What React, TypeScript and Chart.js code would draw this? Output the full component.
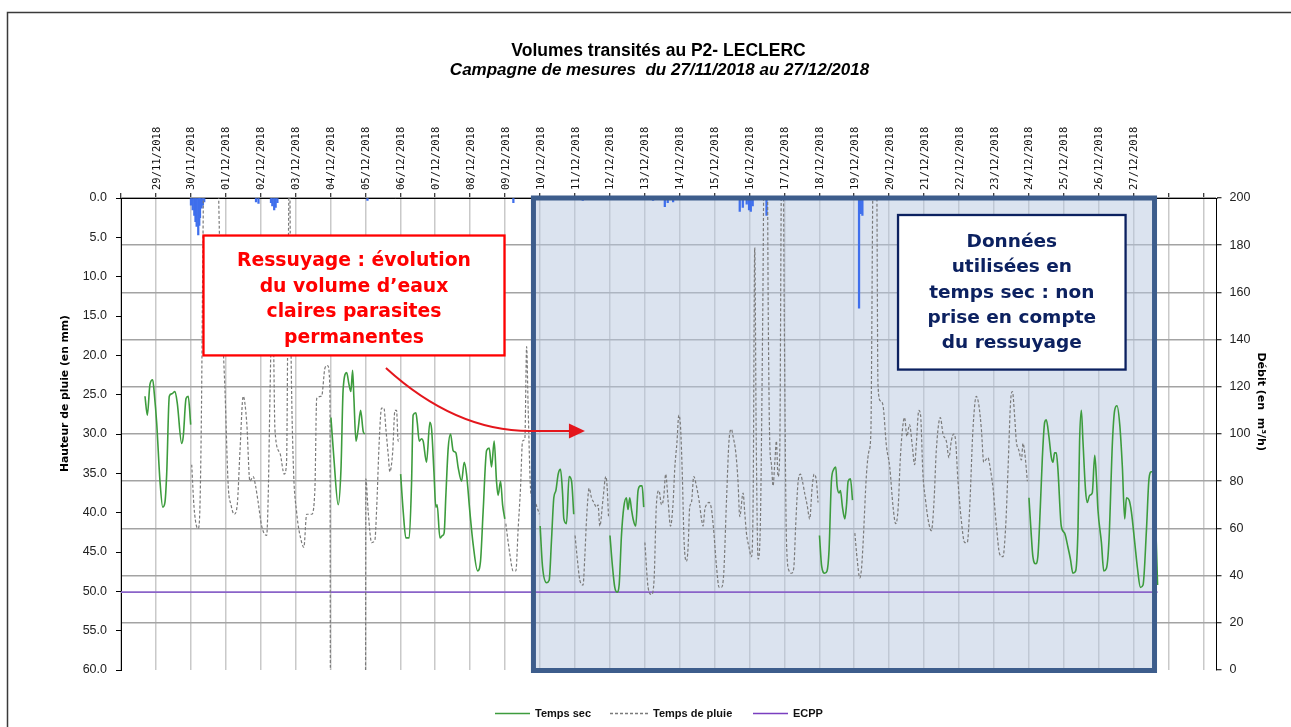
import React, { useEffect, useRef } from 'react';
import { Chart, registerables } from 'chart.js';

Chart.register(...registerables);

// ---- Data ----
const dayLabels = [
  '29/11/2018', '30/11/2018', '01/12/2018', '02/12/2018', '03/12/2018', '04/12/2018',
  '05/12/2018', '06/12/2018', '07/12/2018', '08/12/2018', '09/12/2018', '10/12/2018',
  '11/12/2018', '12/12/2018', '13/12/2018', '14/12/2018', '15/12/2018', '16/12/2018',
  '17/12/2018', '18/12/2018', '19/12/2018', '20/12/2018', '21/12/2018', '22/12/2018',
  '23/12/2018', '24/12/2018', '25/12/2018', '26/12/2018', '27/12/2018',
];

// hours since 28/11/2018 00:00
const rainHours = [
  48.1, 49.3, 50.4, 51.2, 52.0, 53.1, 53.8, 54.3, 55.4, 56.3, 57.2, 92.8, 94.5, 103.1, 104.0,
  105.3, 106.3, 107.5, 169.4, 269.7, 317.4, 365.7, 373.8, 375.8, 379.5, 425.3, 427.4, 430.1,
  431.7, 432.9, 434.2, 443.7, 507.3, 508.5, 509.6,
];
const rainMm = [
  0.9, 1.5, 2.2, 3.0, 3.6, 4.7, 3.5, 2.5, 1.3, 0.9, 0.5, 0.5, 0.7, 0.6, 1.0,
  1.5, 1.2, 0.6, 0.3, 0.6, 0.3, 0.3, 1.1, 0.6, 0.5, 1.7, 1.2, 0.8,
  1.5, 1.7, 1.0, 2.2, 14.0, 2.0, 2.2,
];

const flowHours = [
  16.5, 18.1, 19.9, 21.8, 22.9, 24.5, 26.8, 28.7, 30.2, 31.4, 33.2, 34.8, 37.1, 38.7, 41.7, 42.8, 44.7, 46.2, 47.9,
  48.6, 50.2, 51.9, 53.1, 54.3, 55.3, 56.3, 57.7, 61.8, 66.0, 67.3, 69.4, 71.5, 73.7, 75.6, 77.8, 79.9, 81.8, 84.0,
  86.4, 88.6, 90.9, 92.5, 94.3, 96.7, 100.1, 101.2, 102.4, 103.7, 104.8, 105.8, 109.2, 112.2, 113.8, 114.7, 115.8,
  116.8, 118.4, 120.7, 124.2, 125.7, 127.6, 131.0, 133.3, 134.5, 137.9, 140.2, 142.0, 143.6, 143.9,
  144.3, 146.3, 149.3, 151.2, 152.7, 155.1, 156.7, 158.0, 159.2, 160.1, 161.5, 163.0, 164.7, 166.5, 167.6,
  168.1, 168.3, 169.9, 172.3, 174.5, 175.7, 177.5, 179.1, 180.7, 182.1, 183.7, 184.8, 186.7, 188.3, 189.4, 190.5, 191.7,
  192.2, 194.0, 195.8, 198.1, 199.7, 200.8, 202.7, 203.6, 205.0, 206.6, 207.7, 210.0, 212.3, 213.5, 215.1, 216.4,
  217.3, 219.2, 221.0, 222.1, 223.3, 224.9, 226.5, 228.3, 230.2, 231.7, 234.1, 235.9, 237.5, 239.8, 242.1, 245.1,
  247.1, 248.9, 251.3, 253.1, 254.7, 256.5, 258.1, 259.2, 260.9, 262.3, 263.8,
  264.5, 267.3, 269.5, 271.4, 273.0, 274.6, 276.0, 277.6, 278.8, 279.9, 281.7, 283.8, 286.5, 287.6,
  288.1, 289.7, 292.5, 294.3, 295.9, 297.5, 298.9, 300.5, 302.1, 303.5, 304.4, 306.2, 308.0, 309.7, 311.2,
  312.1, 313.5, 315.4, 317.6, 318.8, 320.0, 321.8, 323.4, 325.0, 326.8, 327.9, 329.1, 331.4, 333.2, 334.1, 335.1,
  336.1, 337.8, 339.4, 341.0, 342.4, 344.0, 345.6, 347.4, 348.5, 349.7, 350.9, 352.0, 353.8, 355.4, 357.1, 358.2, 359.3,
  360.1, 362.3, 364.6, 366.4, 368.0, 369.8, 371.5, 373.0, 374.4, 376.0, 377.7, 379.5, 380.6, 382.2, 383.4, 384.6,
  385.9, 387.0, 388.7, 389.8, 390.9, 392.1, 393.7, 395.5, 397.3, 399.0, 400.1, 401.3, 402.4, 404.2, 405.9, 407.4,
  409.3, 411.1, 412.7, 414.3, 416.2, 417.9, 419.6, 420.7, 422.6, 424.1, 425.3, 427.6, 428.7, 429.9, 431.7, 433.3,
  434.5, 435.6, 436.6, 437.9, 439.4, 441.1, 442.5, 443.9, 444.9, 445.9, 447.1, 448.2, 449.4, 450.5, 451.6, 452.8,
  453.8, 454.8, 455.9, 457.4, 459.2, 460.8, 462.4, 463.8, 465.3, 467.0, 468.4, 469.9, 471.6, 473.4, 475.0, 476.4,
  478.0, 479.1,
  480.1, 481.6, 483.7, 485.3, 486.7, 488.3, 489.9, 491.3, 492.2, 493.6, 494.5, 495.9, 497.5, 498.7, 499.8, 501.4, 502.8,
  504.4, 506.0, 507.8, 509.0, 510.1, 512.4, 514.2, 515.4, 516.7, 517.7, 519.4, 520.3, 522.0, 523.8, 526.1, 528.4,
  530.7, 532.5, 534.1, 535.7, 537.5, 538.6, 540.2, 542.0, 543.9, 545.5, 546.6, 548.4, 549.6, 551.2, 553.0, 554.7,
  557.0, 558.8, 560.4, 563.2, 565.0, 567.3, 569.1, 570.7, 572.3, 573.7, 575.2, 577.5, 579.9, 581.7, 583.3, 585.6,
  587.9, 589.7, 591.4, 593.0, 594.3, 595.9, 597.6, 599.4, 601.7, 604.0, 606.2, 608.1, 609.7, 611.5, 612.7, 614.3,
  615.4, 617.2, 618.9, 620.0, 621.2, 623.0,
  624.1, 625.6, 626.8, 628.7, 630.2, 631.9, 633.3, 634.9, 636.0, 637.8, 639.5, 640.6, 641.7, 642.9, 644.0, 646.3,
  648.6, 650.9, 652.6, 654.3, 656.2, 657.8, 658.9, 660.1, 661.2, 663.0, 664.2, 665.8, 667.6, 669.3, 670.4, 671.5,
  673.9, 675.5, 677.3, 679.1, 681.5, 683.0, 684.6, 686.5, 688.3, 689.9, 691.1, 692.9, 694.5, 696.8, 698.7, 700.7,
  702.5, 704.9, 706.6, 708.3, 709.9, 711.3, 712.5,
];
const flowValues = [
  116, 108, 121, 123, 117, 105, 80, 69, 71, 83, 116, 117, 118, 113, 96, 99, 115, 116, 104,
  87, 69, 61, 60, 70, 110, 180, 250, 260, 250, 195, 150, 118, 78, 70, 66, 70, 93, 116,
  105, 80, 82, 78, 71, 61, 57, 74, 116, 150, 140, 102, 92, 83, 88, 150, 220,
  140, 88, 67, 54, 52, 66, 66, 77, 115, 116, 128, 129, 119, 0,
  107, 90, 70, 85, 119, 126, 121, 118, 127, 115, 97, 102, 110, 101, 100,
  0, 81, 67, 54, 55, 68, 97, 111, 111, 102, 91, 84, 92, 110, 110, 97, 98,
  83, 67, 56, 56, 79, 108, 109, 105, 97, 98, 97, 88, 105, 102, 84, 69,
  70, 56, 57, 58, 74, 94, 100, 93, 92, 86, 80, 88, 83, 67, 53, 42,
  46, 67, 93, 94, 86, 97, 80, 74, 80, 70, 64,
  62, 49, 42, 42, 60, 77, 97, 98, 137, 110, 75, 72, 68, 66,
  61, 44, 37, 38, 55, 73, 76, 83, 85, 75, 64, 62, 82, 80, 66,
  57, 48, 38, 36, 48, 64, 77, 73, 71, 69, 70, 61, 73, 82, 78, 65,
  57, 44, 35, 33, 36, 57, 69, 73, 68, 73, 68, 64, 61, 76, 78, 78, 69,
  54, 35, 32, 38, 70, 76, 70, 73, 83, 72, 61, 71, 85, 97, 108, 103,
  81, 55, 46, 52, 69, 71, 82, 78, 72, 64, 61, 68, 70, 71, 68, 59,
  44, 35, 35, 41, 72, 97, 102, 99, 92, 80, 65, 75, 67, 58, 52, 48,
  72, 179, 100, 47, 60, 150, 250, 250, 150, 97, 87, 78, 88, 97, 82, 92,
  200, 250, 150, 55, 42, 41, 43, 62, 79, 83, 80, 75, 70, 64, 77, 83,
  80, 71,
  57, 44, 41, 42, 51, 80, 85, 86, 78, 75, 76, 69, 64, 70, 80, 81, 72,
  58, 47, 39, 43, 54, 83, 93, 100, 200, 260, 220, 121, 114, 112, 95, 86,
  69, 62, 68, 90, 104, 107, 99, 104, 95, 87, 95, 110, 108, 83, 72, 64,
  59, 71, 93, 107, 100, 97, 90, 97, 100, 97, 81, 64, 54, 54, 68, 102,
  116, 112, 102, 88, 89, 90, 85, 77, 61, 49, 48, 61, 85, 114, 118, 107,
  97, 93, 89, 96, 92, 80,
  73, 58, 48, 45, 48, 69, 90, 105, 106, 99, 90, 88, 92, 92, 85, 61,
  58, 52, 47, 41, 42, 60, 97, 110, 97, 76, 71, 74, 75, 91, 82, 68,
  54, 42, 43, 55, 97, 110, 112, 104, 86, 64, 73, 72, 67, 54, 43, 35,
  36, 60, 81, 84, 84, 60, 36,
];

// days (index since 28/11) classified as "temps sec"
const dryDays = [0, 1, 6, 8, 9, 10, 12, 14, 20, 26, 27, 28, 29];

const ecppValue = 33;
const ecppHours = [0, 712.5];

// annotations (data units: hours / m3/h)
const dryPeriodHours = [283.5, 710.4];
const redNote = { h0: 56.7, h1: 263.6, v0: 184.1, v1: 133.3 };
const navyNote = { h0: 534.1, h1: 690.5, v0: 192.8, v1: 127.3 };
const arrowPath = { start: [182.1, 128.0], ctrl: [229.6, 101.3], bend: [281.1, 101.3], tip: [318.9, 101.3] };

const redLines = ['Ressuyage : évolution', 'du volume d’eaux', 'claires parasites', 'permanentes'];
const navyLines = ['Données', 'utilisées en', 'temps sec : non', 'prise en compte', 'du ressuyage'];

const isDry = (h: number) => dryDays.includes(Math.floor(h / 24));

const secData = flowHours.map((h, i) => ({ x: h, y: isDry(h) ? flowValues[i] : null }));
const pluieData = flowHours.map((h, i) => ({ x: h, y: isDry(h) ? null : flowValues[i] }));
const rainData = rainHours.map((h, i) => ({ x: h, y: rainMm[i] }));
const ecppData = ecppHours.map((h) => ({ x: h, y: ecppValue }));
const dayTickValues = Array.from({ length: 32 }, (_, i) => i * 24);

const GREEN = '#3d9c3d';
const GREY = '#7a7a7a';
const PURPLE = '#8a63c8';

const decorPlugin = {
  id: 'decor',
  beforeDraw(chart: any) {
    const { ctx } = chart;
    ctx.save();
    ctx.fillStyle = '#ffffff';
    ctx.fillRect(0, 0, chart.width, chart.height);
    ctx.strokeStyle = '#3a3a3a';
    ctx.lineWidth = 1.5;
    ctx.beginPath();
    ctx.moveTo(7.5, chart.height);
    ctx.lineTo(7.5, 12.5);
    ctx.lineTo(chart.width, 12.5);
    ctx.stroke();
    ctx.restore();
  },
  beforeDatasetsDraw(chart: any) {
    const { ctx, chartArea } = chart;
    const xs = chart.scales.x;
    const x0 = xs.getPixelForValue(dryPeriodHours[0]);
    const x1 = xs.getPixelForValue(dryPeriodHours[1]);
    ctx.save();
    ctx.fillStyle = 'rgba(183,199,223,0.5)';
    ctx.fillRect(x0, chartArea.top, x1 - x0, chartArea.bottom - chartArea.top);
    ctx.restore();
  },
  afterDraw(chart: any) {
    const { ctx, chartArea } = chart;
    const xs = chart.scales.x;
    const ys = chart.scales.yDebit;
    const px = (h: number) => xs.getPixelForValue(h);
    const py = (v: number) => ys.getPixelForValue(v);
    ctx.save();

    // blue frame of the dry-weather period
    const bx0 = px(dryPeriodHours[0]);
    const bx1 = px(dryPeriodHours[1]);
    ctx.strokeStyle = '#3d5d8c';
    ctx.lineWidth = 5;
    ctx.strokeRect(bx0, chartArea.top, bx1 - bx0, chartArea.bottom - chartArea.top + 0.5);

    // red note
    const rx0 = px(redNote.h0), rx1 = px(redNote.h1), ry0 = py(redNote.v0), ry1 = py(redNote.v1);
    ctx.fillStyle = '#ffffff';
    ctx.fillRect(rx0, ry0, rx1 - rx0, ry1 - ry0);
    ctx.strokeStyle = '#ff0000';
    ctx.lineWidth = 2.3;
    ctx.strokeRect(rx0, ry0, rx1 - rx0, ry1 - ry0);
    ctx.fillStyle = '#ff0000';
    ctx.font = 'bold 18.8px "DejaVu Sans"';
    ctx.textAlign = 'center';
    ctx.textBaseline = 'alphabetic';
    redLines.forEach((t, i) => ctx.fillText(t, (rx0 + rx1) / 2, ry0 + 30.5 + i * 25.5));

    // navy note
    const nx0 = px(navyNote.h0), nx1 = px(navyNote.h1), ny0 = py(navyNote.v0), ny1 = py(navyNote.v1);
    ctx.fillStyle = '#ffffff';
    ctx.fillRect(nx0, ny0, nx1 - nx0, ny1 - ny0);
    ctx.strokeStyle = '#0c2160';
    ctx.lineWidth = 2.3;
    ctx.strokeRect(nx0, ny0, nx1 - nx0, ny1 - ny0);
    ctx.fillStyle = '#0c2160';
    ctx.font = 'bold 18.5px "DejaVu Sans"';
    navyLines.forEach((t, i) => ctx.fillText(t, (nx0 + nx1) / 2, ny0 + 32.3 + i * 25.2));

    // arrow
    const [sx, sy] = arrowPath.start;
    const [cx, cy] = arrowPath.ctrl;
    const [ex, ey] = arrowPath.bend;
    const [tx, ty] = arrowPath.tip;
    const tipX = px(tx), tipY = py(ty);
    ctx.strokeStyle = '#e4161c';
    ctx.lineWidth = 2;
    ctx.beginPath();
    ctx.moveTo(px(sx), py(sy));
    ctx.quadraticCurveTo(px(cx), py(cy), px(ex), py(ey));
    ctx.lineTo(tipX - 14, tipY);
    ctx.stroke();
    ctx.fillStyle = '#e4161c';
    ctx.beginPath();
    ctx.moveTo(tipX - 16, tipY - 7.5);
    ctx.lineTo(tipX, tipY);
    ctx.lineTo(tipX - 16, tipY + 7.5);
    ctx.closePath();
    ctx.fill();

    // titles
    ctx.fillStyle = '#000';
    ctx.textAlign = 'center';
    ctx.font = 'bold 17.5px "Liberation Sans"';
    ctx.fillText('Volumes transités au P2- LECLERC', 658.5, 56);
    ctx.font = 'italic bold 17px "Liberation Sans"';
    ctx.fillText('Campagne de mesures  du 27/11/2018 au 27/12/2018', 659.5, 75);

    // axis titles
    ctx.font = 'bold 10.8px "DejaVu Sans"';
    ctx.textBaseline = 'middle';
    ctx.save();
    ctx.translate(65, 393.5);
    ctx.rotate(-Math.PI / 2);
    ctx.fillText('Hauteur de pluie (en mm)', 0, 0);
    ctx.restore();
    ctx.save();
    ctx.font = 'bold 11px "DejaVu Sans"';
    ctx.translate(1260.5, 401.7);
    ctx.rotate(Math.PI / 2);
    ctx.fillText('Débit (en  m³/h)', 0, 0);
    ctx.restore();

    // legend
    const ly = 713.5;
    ctx.font = 'bold 11px "Liberation Sans"';
    ctx.textAlign = 'left';
    ctx.textBaseline = 'middle';
    const items = [
      { x: 495, w: 35, color: GREEN, dash: [] as number[], label: 'Temps sec' },
      { x: 610, w: 38, color: GREY, dash: [3, 2], label: 'Temps de pluie' },
      { x: 753, w: 35, color: '#7a3fc0', dash: [] as number[], label: 'ECPP' },
    ];
    items.forEach((it) => {
      ctx.strokeStyle = it.color;
      ctx.lineWidth = 1.5;
      ctx.setLineDash(it.dash);
      ctx.beginPath();
      ctx.moveTo(it.x, ly);
      ctx.lineTo(it.x + it.w, ly);
      ctx.stroke();
      ctx.setLineDash([]);
      ctx.fillStyle = '#111';
      ctx.fillText(it.label, it.x + it.w + 5, ly);
    });
    ctx.restore();
  },
};

export default function App() {
  const ref = useRef<HTMLCanvasElement>(null);
  useEffect(() => {
    Chart.defaults.font.family = '"Liberation Sans", Arial, sans-serif';
    const chart = new Chart(ref.current as HTMLCanvasElement, {
      type: 'line',
      data: {
        datasets: [
          {
            label: 'Temps sec', data: secData as any, yAxisID: 'yDebit', borderColor: GREEN, borderWidth: 1.6,
            pointRadius: 0, spanGaps: false, cubicInterpolationMode: 'monotone', order: 0,
          },
          {
            label: 'Temps de pluie', data: pluieData as any, yAxisID: 'yDebit', borderColor: GREY, borderWidth: 1.2,
            borderDash: [3, 2], pointRadius: 0, spanGaps: false, cubicInterpolationMode: 'monotone', order: 1,
          },
          {
            label: 'ECPP', data: ecppData as any, yAxisID: 'yDebit', borderColor: PURPLE, borderWidth: 1.6,
            pointRadius: 0, order: 2,
          },
          {
            type: 'bar', label: 'Pluie', data: rainData as any, yAxisID: 'yRain', backgroundColor: '#3f6fec',
            barThickness: 1.6, grouped: false, order: 3,
          } as any,
        ],
      },
      options: {
        responsive: false,
        animation: false,
        layout: { padding: { top: 0, left: 0, right: 0, bottom: 57 } },
        plugins: { legend: { display: false }, tooltip: { enabled: false }, title: { display: false } },
        scales: {
          x: {
            type: 'linear', position: 'top', min: 0, max: 753, offset: false,
            afterBuildTicks: (scale: any) => { scale.ticks = dayTickValues.map((v) => ({ value: v })); },
            afterFit: (scale: any) => { scale.height = 198; },
            ticks: {
              autoSkip: false, maxRotation: 90, minRotation: 90, padding: 3, labelOffset: 13.5, color: '#111',
              font: { family: '"DejaVu Sans Mono"', size: 10.5 },
              callback: (v: any) => dayLabels[Math.round(Number(v) / 24) - 1] ?? '',
            },
            grid: { color: '#c9c9c9', lineWidth: 1.5, tickLength: 5, tickColor: '#000', tickWidth: 1, offset: false },
            border: { display: true, color: '#000', width: 1 },
          },
          yRain: {
            type: 'linear', position: 'left', reverse: true, min: 0, max: 60,
            afterFit: (scale: any) => { scale.width = 121; },
            ticks: { stepSize: 5, padding: 9, color: '#222', font: { size: 12.5 }, callback: (v: any) => Number(v).toFixed(1) },
            grid: { drawOnChartArea: false, tickLength: 5, tickColor: '#000', color: '#000', tickWidth: 1 },
            border: { color: '#000', width: 1 },
          },
          yDebit: {
            type: 'linear', position: 'right', min: 0, max: 200,
            afterFit: (scale: any) => { scale.width = 74.5; },
            ticks: { stepSize: 20, padding: 8, color: '#222', font: { size: 12.5 } },
            grid: {
              color: (c: any) => (c.tick && c.tick.value === 0 ? 'rgba(0,0,0,0)' : '#a3a3a3'),
              lineWidth: 1.5, tickLength: 5, tickColor: '#000', tickWidth: 1,
            },
            border: { color: '#000', width: 1 },
          },
        },
      } as any,
      plugins: [decorPlugin],
    });
    return () => chart.destroy();
  }, []);
  return (
    <div style={{ position: 'fixed', left: 0, top: 0, width: 1291, height: 727, background: '#fff', overflow: 'hidden' }}>
      <canvas ref={ref} width={1291} height={727} style={{ display: 'block', width: 1291, height: 727 }} />
    </div>
  );
}
